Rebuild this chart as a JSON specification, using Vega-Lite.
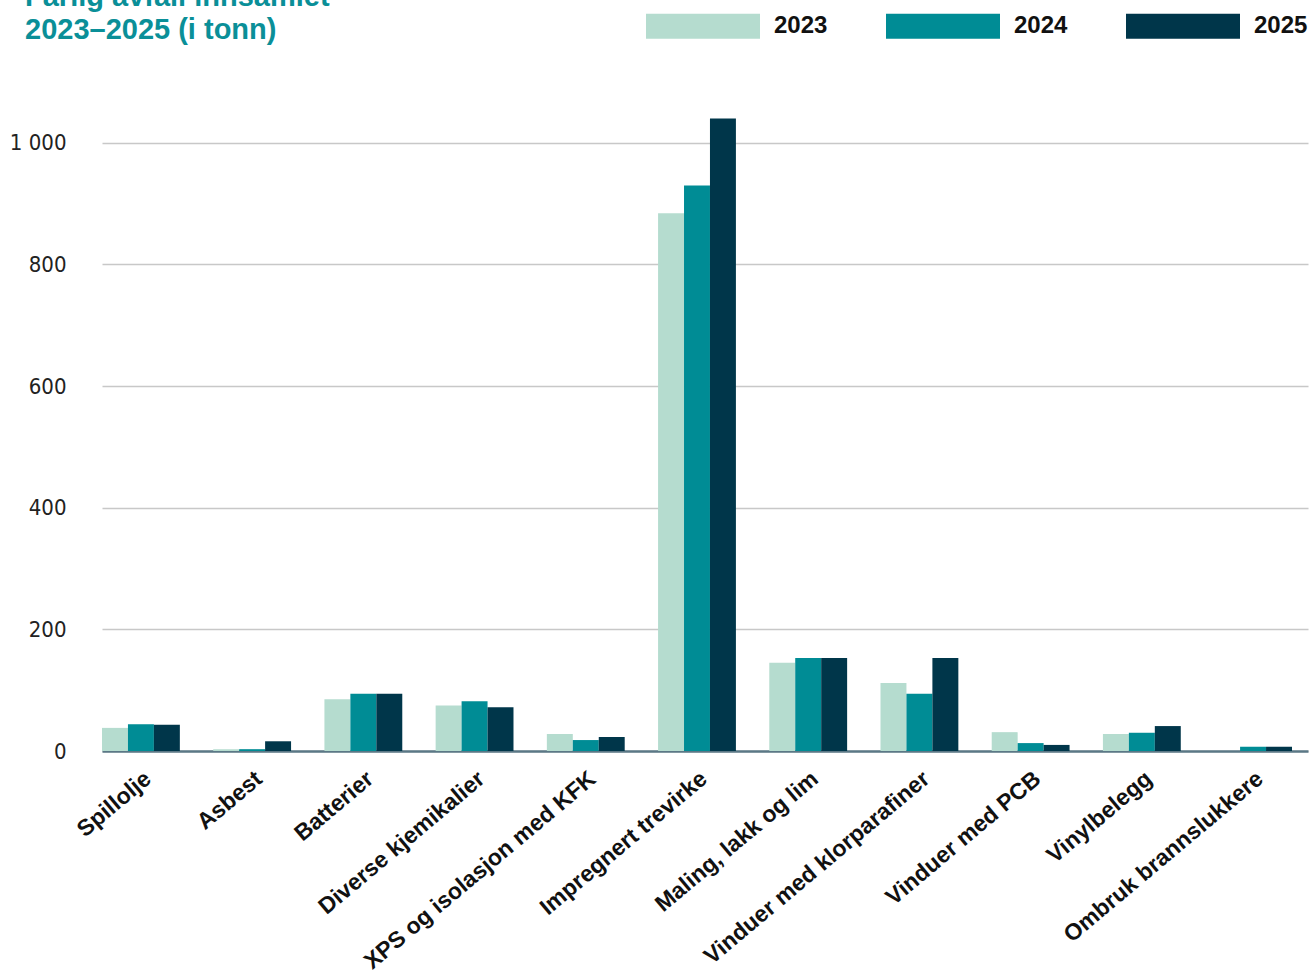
{
  "$schema": "https://vega.github.io/schema/vega-lite/v6.json",
  "width": 1206,
  "height": 669,
  "autosize": {"type": "none"},
  "padding": {"left": 102, "top": 82, "right": 4, "bottom": 221},
  "background": "white",
  "title": {
    "text": ["Farlig avfall innsamlet", "2023–2025 (i tonn)"],
    "anchor": "start",
    "frame": "group",
    "color": "#0a8f98",
    "font": "Liberation Sans",
    "fontWeight": "bold",
    "fontSize": 29,
    "lineHeight": 33,
    "dx": -77,
    "dy": 76,
    "offset": 0
  },
  "data": {
    "values": [
      {"kategori": "Spillolje", "år": "2023", "tonn": 38},
      {"kategori": "Spillolje", "år": "2024", "tonn": 44},
      {"kategori": "Spillolje", "år": "2025", "tonn": 43},
      {"kategori": "Asbest", "år": "2023", "tonn": 3},
      {"kategori": "Asbest", "år": "2024", "tonn": 3},
      {"kategori": "Asbest", "år": "2025", "tonn": 16},
      {"kategori": "Batterier", "år": "2023", "tonn": 85},
      {"kategori": "Batterier", "år": "2024", "tonn": 94},
      {"kategori": "Batterier", "år": "2025", "tonn": 94},
      {"kategori": "Diverse kjemikalier", "år": "2023", "tonn": 75},
      {"kategori": "Diverse kjemikalier", "år": "2024", "tonn": 82},
      {"kategori": "Diverse kjemikalier", "år": "2025", "tonn": 72},
      {"kategori": "XPS og isolasjon med KFK", "år": "2023", "tonn": 28},
      {"kategori": "XPS og isolasjon med KFK", "år": "2024", "tonn": 18},
      {"kategori": "XPS og isolasjon med KFK", "år": "2025", "tonn": 23},
      {"kategori": "Impregnert trevirke", "år": "2023", "tonn": 884},
      {"kategori": "Impregnert trevirke", "år": "2024", "tonn": 930},
      {"kategori": "Impregnert trevirke", "år": "2025", "tonn": 1040},
      {"kategori": "Maling, lakk og lim", "år": "2023", "tonn": 145},
      {"kategori": "Maling, lakk og lim", "år": "2024", "tonn": 153},
      {"kategori": "Maling, lakk og lim", "år": "2025", "tonn": 153},
      {"kategori": "Vinduer med klorparafiner", "år": "2023", "tonn": 112},
      {"kategori": "Vinduer med klorparafiner", "år": "2024", "tonn": 94},
      {"kategori": "Vinduer med klorparafiner", "år": "2025", "tonn": 153},
      {"kategori": "Vinduer med PCB", "år": "2023", "tonn": 31},
      {"kategori": "Vinduer med PCB", "år": "2024", "tonn": 13},
      {"kategori": "Vinduer med PCB", "år": "2025", "tonn": 10},
      {"kategori": "Vinylbelegg", "år": "2023", "tonn": 28},
      {"kategori": "Vinylbelegg", "år": "2024", "tonn": 30},
      {"kategori": "Vinylbelegg", "år": "2025", "tonn": 41},
      {"kategori": "Ombruk brannslukkere", "år": "2023", "tonn": 0},
      {"kategori": "Ombruk brannslukkere", "år": "2024", "tonn": 7},
      {"kategori": "Ombruk brannslukkere", "år": "2025", "tonn": 7}
    ]
  },
  "mark": {"type": "bar"},
  "encoding": {
    "x": {
      "field": "kategori",
      "type": "nominal",
      "sort": null,
      "title": null,
      "scale": {"paddingInner": 0.3, "paddingOuter": 0.072, "align": 0},
      "axis": {
        "labelAngle": -40,
        "labelAlign": "right",
        "labelBaseline": "top",
        "labelFont": "Liberation Sans",
        "labelFontWeight": "bold",
        "labelFontSize": 23,
        "labelColor": "#111111",
        "labelPadding": 16,
        "ticks": false,
        "domain": true,
        "domainColor": "#5b7886",
        "domainWidth": 2.5,
        "grid": false,
        "labelLimit": 400
      }
    },
    "xOffset": {"field": "år", "type": "nominal"},
    "y": {
      "field": "tonn",
      "type": "quantitative",
      "title": null,
      "scale": {"domain": [0, 1100], "nice": false},
      "axis": {
        "values": [0, 200, 400, 600, 800, 1000],
        "labelExpr": "replace(format(datum.value, ','), ',', ' ')",
        "labelFont": "DejaVu Sans Condensed, Roboto",
        "labelFontSize": 22,
        "labelColor": "#222222",
        "labelPadding": 36,
        "ticks": false,
        "domain": false,
        "grid": true,
        "gridColor": "#c8c8c8",
        "gridWidth": 1.5
      }
    },
    "color": {
      "field": "år",
      "type": "nominal",
      "scale": {"domain": ["2023", "2024", "2025"], "range": ["#b5dccf", "#008c95", "#00364a"]},
      "legend": {
        "title": null,
        "orient": "none",
        "direction": "horizontal",
        "legendX": 544,
        "legendY": -113,
        "symbolType": "M-1,-0.22H1V0.22H-1Z",
        "symbolSize": 12996,
        "symbolStrokeWidth": 0,
        "labelFont": "Liberation Sans",
        "labelFontWeight": "bold",
        "labelFontSize": 24,
        "labelColor": "#111111",
        "labelOffset": 14,
        "columnPadding": 58
      }
    }
  },
  "config": {
    "view": {"stroke": null},
    "axis": {"zindex": 0}
  }
}
